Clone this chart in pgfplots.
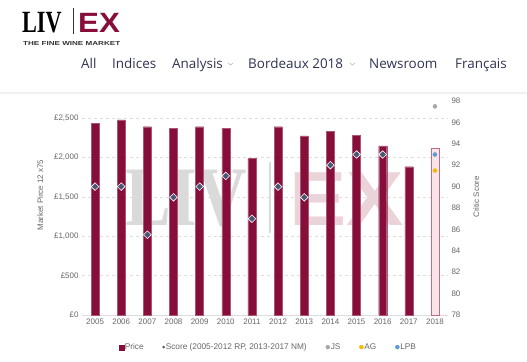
\documentclass[border=0pt]{standalone}
\usepackage{fontspec}
\setmainfont{Liberation Sans}
\newfontfamily\navfont{Open Sans}
\newfontfamily\logoserif{Liberation Serif}
\usepackage{graphicx}
\usepackage{pgfplots}
\pgfplotsset{compat=1.18}
\definecolor{maroon}{HTML}{870D3A}
\definecolor{pinkfill}{HTML}{F8E5EA}
\definecolor{pinkedge}{HTML}{C46A88}
\definecolor{slate}{HTML}{4B5573}
\definecolor{tickgrey}{HTML}{666666}
\definecolor{gridgrey}{HTML}{DDDDDD}
\definecolor{navcol}{HTML}{2E3353}
\definecolor{wmgrey}{HTML}{DADADA}
\definecolor{wmpink}{HTML}{EBD3DA}
\definecolor{jsgrey}{HTML}{A6A6A6}
\definecolor{agyellow}{HTML}{F7B900}
\definecolor{lpbblue}{HTML}{5B9BD5}
\begin{document}
\begin{tikzpicture}[x=1bp,y=1bp]
\path[use as bounding box] (0,0) rectangle (527,361);
% header logo
\node[anchor=base west, inner sep=0, xscale=0.72] at (22,329) {\logoserif\bfseries\fontsize{31}{31}\selectfont LIV};
\draw[line width=0.7bp, black!80] (73,353) -- (73,327);
\node[anchor=base west, inner sep=0, xscale=1.12, text=maroon] at (78,329) {\bfseries\fontsize{28}{28}\selectfont EX};
\node[anchor=base west, inner sep=0, text=black!80] at (23,316) {\resizebox{97bp}{4bp}{\bfseries THE FINE WINE MARKET}};
% nav
\begin{scope}[every node/.style={anchor=base west, inner sep=0, text=navcol, font=\navfont\fontsize{13.5}{14}\selectfont}]
\node at (81,293) {All};
\node at (112,293) {Indices};
\node at (172,293) {Analysis};
\node at (248,293) {Bordeaux 2018};
\node at (369,293) {Newsroom};
\node at (455,293) {Français};
\end{scope}
\draw[gray!60, line width=0.5bp] (228,298) -- (230.5,296) -- (233,298);
\draw[gray!60, line width=0.5bp] (350,298) -- (352.5,296) -- (355,298);
% separator
\fill[black!6] (0,267.5) rectangle (527,269.5);
% watermark
\node[anchor=base west, inner sep=0, xscale=0.81, text=wmgrey] at (125,136) {\logoserif\bfseries\fontsize{85}{85}\selectfont LIV};
\draw[line width=2bp, wmgrey] (270,199) -- (270,128);
\node[anchor=base west, inner sep=0, xscale=1.12, text=wmpink] at (289,136) {\bfseries\fontsize{77}{77}\selectfont EX};
% left axis
\begin{axis}[
  at={(82bp,46bp)}, anchor=south west, scale only axis,
  width=366bp, height=214bp,
  xmin=-0.5, xmax=13.5, ymin=0, ymax=2716,
  xtick={0,...,13},
  xticklabels={2005,2006,2007,2008,2009,2010,2011,2012,2013,2014,2015,2016,2017,2018},
  ytick={0,500,1000,1500,2000,2500},
  yticklabels={£0,£500,{£1,000},{£1,500},{£2,000},{£2,500}},
  axis x line*=bottom, axis y line*=left,
  x axis line style={draw=gridgrey, line width=0.8bp, -},
  y axis line style={draw=none},
  tick style={draw=none},
  ymajorgrids, grid style={dashed, gridgrey, line width=0.5bp},
  ticklabel style={font=\fontsize{8}{9}\selectfont, text=tickgrey},
  ylabel={Market Pirce 12 x75},
  ylabel style={font=\fontsize{8}{9}\selectfont, text=tickgrey, yshift=4bp, xshift=13bp},
  clip=false,
]
\addplot[ybar, bar width=8bp, bar shift=0pt, fill=maroon, draw=maroon!70!white, line width=0.3bp]
  coordinates {(0,2433)(1,2475)(2,2390)(3,2369)(4,2390)(5,2369)(6,1989)(7,2390)(8,2272)(9,2335)(10,2284)(11,2145)(12,1882)};
\addplot[ybar, bar width=8bp, bar shift=0pt, fill=pinkfill, draw=pinkedge, line width=0.8bp]
  coordinates {(13,2115)};
\end{axis}
% right axis
\begin{axis}[
  at={(82bp,46bp)}, anchor=south west, scale only axis,
  width=366bp, height=214bp,
  xmin=-0.5, xmax=13.5, ymin=78, ymax=98,
  ytick={78,80,...,98},
  axis y line*=right, axis x line=none,
  y axis line style={draw=none},
  tick style={draw=none},
  /pgf/number format/assume math mode=true,
  ticklabel style={font=\fontsize{8}{9}\selectfont, text=tickgrey},
  ylabel={Critic Score},
  ylabel style={font=\fontsize{8}{9}\selectfont, text=tickgrey, yshift=-6bp, xshift=11bp},
  legend columns=5,
  legend style={at={(0.508,-0.15)}, anchor=center, draw=none, fill=none,
    font=\fontsize{8.3}{9}\selectfont, text=tickgrey,
    /tikz/every even column/.append style={column sep=18bp},
    nodes={inner sep=0.8bp}},
  clip=false,
]
\addplot[only marks, mark=square*, mark size=2.7bp, mark options={rotate=45, fill=slate, draw=white, line width=0.6bp}, forget plot]
  coordinates {(0,90)(1,90)(2,85.5)(3,89)(4,90)(5,91)(6,87)(7,90)(8,89)(9,92)(10,93)(11,93)};
\addplot[only marks, mark=*, mark size=2bp, color=jsgrey, forget plot] coordinates {(13,97.5)};
\addplot[only marks, mark=*, mark size=2bp, color=agyellow, forget plot] coordinates {(13,91.5)};
\addplot[only marks, mark=*, mark size=2bp, color=lpbblue, forget plot] coordinates {(13,93)};
\addlegendimage{legend image code/.code={\fill[maroon] (0bp,-2.6bp) rectangle (4.5bp,2.4bp);}}
\addlegendentry{Price}
\addlegendimage{legend image code/.code={\fill[slate] (1.5bp,0bp) circle (1.1bp);}}
\addlegendentry{Score (2005-2012 RP, 2013-2017 NM)}
\addlegendimage{legend image code/.code={\fill[jsgrey] (2bp,0bp) circle (2bp);}}
\addlegendentry{JS}
\addlegendimage{legend image code/.code={\fill[agyellow] (2bp,0bp) circle (2bp);}}
\addlegendentry{AG}
\addlegendimage{legend image code/.code={\fill[lpbblue] (2bp,0bp) circle (2bp);}}
\addlegendentry{LPB}
\end{axis}
\end{tikzpicture}
\end{document}
